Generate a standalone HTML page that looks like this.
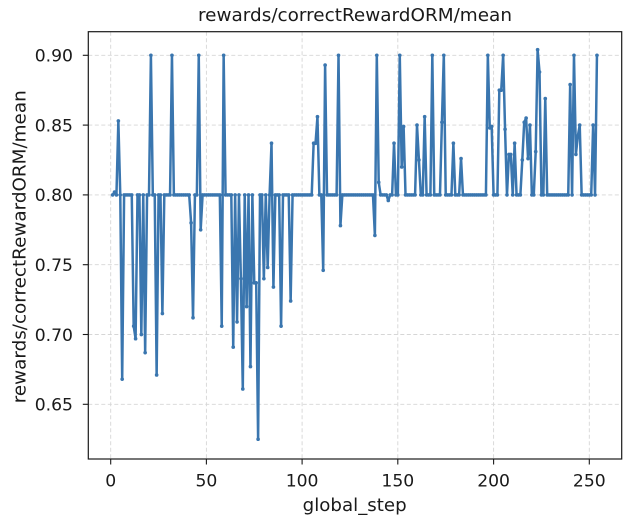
<!DOCTYPE html>
<html><head><meta charset="utf-8">
<style>
html,body{margin:0;padding:0;background:#fff;}
svg{display:block;}
text{font-family:"DejaVu Sans","Liberation Sans",sans-serif;fill:#1a1a1a;}
</style></head>
<body>
<svg width="640" height="529" viewBox="0 0 640 529" xmlns="http://www.w3.org/2000/svg">
<defs>
<marker id="dot" markerUnits="userSpaceOnUse" markerWidth="6" markerHeight="6" viewBox="-3 -3 6 6" refX="0" refY="0" overflow="visible">
<ellipse cx="0" cy="0" rx="0.95" ry="1.3" fill="#3a76af"/>
</marker>
</defs>
<rect x="0" y="0" width="640" height="529" fill="#fff"/>
<g stroke="#d6d6d6" stroke-width="0.9" stroke-dasharray="4,2.5" fill="none">
<line x1="110.7" y1="31.7" x2="110.7" y2="459"/>
<line x1="206.4" y1="31.7" x2="206.4" y2="459"/>
<line x1="302.1" y1="31.7" x2="302.1" y2="459"/>
<line x1="397.8" y1="31.7" x2="397.8" y2="459"/>
<line x1="493.6" y1="31.7" x2="493.6" y2="459"/>
<line x1="589.3" y1="31.7" x2="589.3" y2="459"/>
<line x1="88.3" y1="55.3" x2="621.7" y2="55.3"/>
<line x1="88.3" y1="125.1" x2="621.7" y2="125.1"/>
<line x1="88.3" y1="194.9" x2="621.7" y2="194.9"/>
<line x1="88.3" y1="264.7" x2="621.7" y2="264.7"/>
<line x1="88.3" y1="334.5" x2="621.7" y2="334.5"/>
<line x1="88.3" y1="404.3" x2="621.7" y2="404.3"/>
</g>
<g transform="matrix(1.9144 0 0 -1.396 110.7 1311.7)">
<polyline fill="none" stroke="#3a76af" stroke-width="2.5" vector-effect="non-scaling-stroke" stroke-linejoin="round" marker-start="url(#dot)" marker-mid="url(#dot)" marker-end="url(#dot)"
points="1,800 2,802 3,800 4,853 5,800 6,668 7,800 8,800 9,800 10,800 11,800 12,706 13,697 14,800 15,800 16,700 17,800 18,687 19,800 20,800 21,900 22,800 23,800 24,671 25,800 26,800 27,715 28,800 29,800 30,800 31,800 32,900 33,800 34,800 35,800 36,800 37,800 38,800 39,800 40,800 41,800 42,780 43,712 44,800 45,800 46,900 47,775 48,800 49,800 50,800 51,800 52,800 53,800 54,800 55,800 56,800 57,800 58,706 59,900 60,800 61,800 62,800 63,800 64,691 65,800 66,709 67,800 68,740 69,661 70,800 71,720 72,800 73,677 74,800 75,737 76,737 77,625 78,800 79,800 80,740 81,800 82,748 83,800 84,837 85,734 86,800 87,800 88,800 89,706 90,800 91,800 92,800 93,800 94,724 95,800 96,800 97,800 98,800 99,800 100,800 101,800 102,800 103,800 104,800 105,800 106,837 107,837 108,856 109,800 110,800 111,746 112,893 113,800 114,800 115,800 116,800 117,800 118,800 119,900 120,778 121,800 122,800 123,800 124,800 125,800 126,800 127,800 128,800 129,800 130,800 131,800 132,800 133,800 134,800 135,800 136,800 137,800 138,771 139,900 140,809 141,800 142,800 143,800 144,800 145,796 146,800 147,800 148,837 149,800 150,800 151,900 152,820 153,849 154,800 155,800 156,800 157,800 158,800 159,800 160,850 161,825 162,800 163,800 164,856 165,800 166,800 167,800 168,900 169,800 170,800 171,800 172,800 173,852 174,900 175,800 176,800 177,800 178,800 179,837 180,800 181,800 182,800 183,826 184,800 185,800 186,800 187,800 188,800 189,800 190,800 191,800 192,800 193,800 194,800 195,800 196,800 197,900 198,848 199,849 200,800 201,800 202,800 203,875 204,875 205,900 206,847 207,800 208,829 209,829 210,800 211,837 212,800 213,800 214,800 215,825 216,852 217,855 218,826 219,850 220,800 221,800 222,831 223,904 224,888 225,800 226,800 227,869 228,800 229,800 230,800 231,800 232,800 233,800 234,800 235,800 236,800 237,800 238,800 239,800 240,879 241,800 242,900 243,829 244,842 245,850 246,800 247,800 248,800 249,800 250,800 251,800 252,850 253,800 254,900"/>
</g>
<rect x="88.3" y="31.7" width="533.4" height="427.3" fill="none" stroke="#1a1a1a" stroke-width="1.2"/>
<g stroke="#1a1a1a" stroke-width="1.1">
<line x1="110.7" y1="459" x2="110.7" y2="464.5"/>
<line x1="206.4" y1="459" x2="206.4" y2="464.5"/>
<line x1="302.1" y1="459" x2="302.1" y2="464.5"/>
<line x1="397.8" y1="459" x2="397.8" y2="464.5"/>
<line x1="493.6" y1="459" x2="493.6" y2="464.5"/>
<line x1="589.3" y1="459" x2="589.3" y2="464.5"/>
<line x1="82.8" y1="55.3" x2="88.3" y2="55.3"/>
<line x1="82.8" y1="125.1" x2="88.3" y2="125.1"/>
<line x1="82.8" y1="194.9" x2="88.3" y2="194.9"/>
<line x1="82.8" y1="264.7" x2="88.3" y2="264.7"/>
<line x1="82.8" y1="334.5" x2="88.3" y2="334.5"/>
<line x1="82.8" y1="404.3" x2="88.3" y2="404.3"/>
</g>
<g font-size="17.2" text-anchor="middle">
<text x="110.7" y="486.5">0</text>
<text x="206.4" y="486.5">50</text>
<text x="302.1" y="486.5">100</text>
<text x="397.8" y="486.5">150</text>
<text x="493.6" y="486.5">200</text>
<text x="589.3" y="486.5">250</text>
</g>
<g font-size="17.2" text-anchor="end">
<text x="73" y="61.6">0.90</text>
<text x="73" y="131.4">0.85</text>
<text x="73" y="201.2">0.80</text>
<text x="73" y="271">0.75</text>
<text x="73" y="340.8">0.70</text>
<text x="73" y="410.6">0.65</text>
</g>
<text x="198" y="21" font-size="18" textLength="314" lengthAdjust="spacingAndGlyphs">rewards/correctRewardORM/mean</text>
<text x="302.7" y="511" font-size="18" textLength="104" lengthAdjust="spacingAndGlyphs">global_step</text>
<text transform="translate(25.5,403.3) rotate(-90)" x="0" y="0" font-size="18" textLength="313" lengthAdjust="spacingAndGlyphs">rewards/correctRewardORM/mean</text>
</svg>
</body></html>
